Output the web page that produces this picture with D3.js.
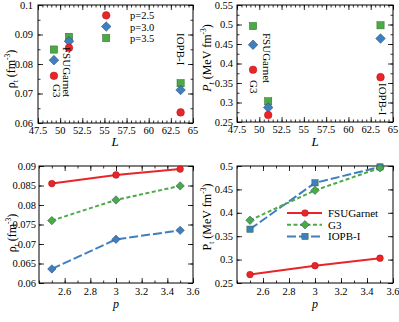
<!DOCTYPE html>
<html><head><meta charset="utf-8">
<script src="https://cdn.jsdelivr.net/npm/d3@7"></script>
<style>body{margin:0;background:#fff}svg{display:block;font-family:"Liberation Serif","Times New Roman",serif}</style>
</head><body><svg id="c" width="399" height="322"></svg>
<script>
const models = ["FSUGarnet","G3","IOPB-I"];
const modelL = [51.0, 49.3, 63.6];
const pVals = [2.5, 3.0, 3.5];
// rho_t per model for p = 2.5, 3.0, 3.5
const rhoFSU = [0.0855, 0.0877, 0.0892];
const rhoG3 = [0.0760, 0.0813, 0.0849];
const rhoIOPB = [0.0636, 0.0712, 0.0735];
// P_t per model
const ptFSU = [0.268, 0.287, 0.303];
const ptG3 = [0.384, 0.448, 0.496];
const ptIOPB = [0.365, 0.464, 0.498];
const legendL = 55.2;
const legendRho = [0.0965, 0.0927, 0.0888];
const pLabels = ["p=2.5","p=3.0","p=3.5"];

const RED="#e8262a", BLUE="#3f7fbf", GREEN="#4aaa45";
const pColors=[RED,BLUE,GREEN];
const pShapes=["circle","diamond","square"];
const svg=d3.select("#c");
const TF=10.5;

function marker(g,shape,x,y,color,sz){
  if(shape==="circle") g.append("circle").attr("cx",x).attr("cy",y).attr("r",sz*0.48).attr("fill",color).attr("stroke","#a00").attr("stroke-width",0.4);
  else if(shape==="square") g.append("rect").attr("x",x-sz*0.45).attr("y",y-sz*0.45).attr("width",sz*0.9).attr("height",sz*0.9).attr("fill",color).attr("stroke","#2a6a25").attr("stroke-width",0.5);
  else { const s=sz*0.6; g.append("path").attr("d",`M${x},${y-s}L${x+s},${y}L${x},${y+s}L${x-s},${y}Z`).attr("fill",color).attr("stroke","#1d3f66").attr("stroke-width",0.5);}
}

function frame(x0,x1,y0,y1,xd,yd,xMaj,xMin,yMaj,yMin,xOff,yOff){
  const x=d3.scaleLinear().domain(xd).range([x0,x1]);
  const y=d3.scaleLinear().domain(yd).range([y1,y0]);
  const g=svg.append("g");
  const mk=(axisFn,sc,vals,len)=>axisFn(sc).tickValues(vals).tickSize(len).tickFormat("");
  const style=s=>{s.select(".domain").remove();s.selectAll("line").attr("stroke","#000").attr("stroke-width",0.8);};
  g.append("g").attr("transform",`translate(0,${y1})`).call(mk(d3.axisTop,x,xMin,2.5)).call(style);
  g.append("g").attr("transform",`translate(0,${y1})`).call(mk(d3.axisTop,x,xMaj,5)).call(style);
  g.append("g").attr("transform",`translate(0,${y0})`).call(mk(d3.axisBottom,x,xMin,2.5)).call(style);
  g.append("g").attr("transform",`translate(0,${y0})`).call(mk(d3.axisBottom,x,xMaj,5)).call(style);
  g.append("g").attr("transform",`translate(${x0},0)`).call(mk(d3.axisRight,y,yMin,2.5)).call(style);
  g.append("g").attr("transform",`translate(${x0},0)`).call(mk(d3.axisRight,y,yMaj,5)).call(style);
  g.append("g").attr("transform",`translate(${x1},0)`).call(mk(d3.axisLeft,y,yMin,2.5)).call(style);
  g.append("g").attr("transform",`translate(${x1},0)`).call(mk(d3.axisLeft,y,yMaj,5)).call(style);
  g.append("rect").attr("x",x0).attr("y",y0).attr("width",x1-x0).attr("height",y1-y0).attr("fill","none").attr("stroke","#000").attr("stroke-width",1);
  g.selectAll(".xl").data(xMaj).join("text").attr("x",d=>x(d)).attr("y",y1+xOff).attr("text-anchor","middle").attr("font-size",TF).text(String);
  g.selectAll(".yl").data(yMaj).join("text").attr("x",x0-yOff).attr("y",d=>y(d)+3.5).attr("text-anchor","end").attr("font-size",TF).text(String);
  return {x,y,g};
}
const rng=(a,b,s)=>d3.range(Math.round((b-a)/s)+1).map(i=>+(a+i*s).toFixed(4));
const rhoLabel='ρ<tspan font-size="7.5" dy="3">t</tspan><tspan dy="-3"> (fm</tspan><tspan font-size="7.5" dy="-5">-3</tspan><tspan dy="5">)</tspan>';

// ---- Top-left
{
  const f=frame(38,193,5,123,[47.5,65],[0.06,0.1],rng(47.5,65,2.5),rng(47.5,65,0.5),rng(0.06,0.1,0.01),rng(0.06,0.1,0.005),11,5);
  const data=[rhoFSU,rhoG3,rhoIOPB];
  [2,1,0].forEach(pi=>models.forEach((m,mi)=>marker(f.g,pShapes[pi],f.x(modelL[mi]),f.y(data[mi][pi]),pColors[pi],8)));
  pLabels.forEach((t,i)=>{marker(f.g,pShapes[i],f.x(legendL),f.y(legendRho[i]),pColors[i],8);
    f.g.append("text").attr("x",130).attr("y",f.y(legendRho[i])+4).attr("font-size",TF).text(t);});
  const rl=(t,x,y)=>f.g.append("text").attr("transform",`translate(${x},${y}) rotate(90)`).attr("font-size",11).text(t);
  rl("G3",53,84); rl("FSUGarnet",63,47); rl("IOPB-I",177,33);
  svg.append("text").attr("transform","translate(15,69) rotate(-90)").attr("text-anchor","middle").attr("font-size",12).html(rhoLabel);
  svg.append("text").attr("x",115).attr("y",146).attr("text-anchor","middle").attr("font-size",13).attr("font-style","italic").text("L");
}
// ---- Top-right
{
  const f=frame(237,393,5,122,[47.5,65],[0.25,0.55],rng(47.5,65,2.5),rng(47.5,65,0.5),rng(0.25,0.55,0.05),rng(0.25,0.55,0.025),11,4);
  const data=[ptFSU,ptG3,ptIOPB];
  [2,1,0].forEach(pi=>models.forEach((m,mi)=>marker(f.g,pShapes[pi],f.x(modelL[mi]),f.y(data[mi][pi]),pColors[pi],8)));
  const rl=(t,x,y)=>f.g.append("text").attr("transform",`translate(${x},${y}) rotate(90)`).attr("font-size",11).text(t);
  rl("G3",250,80); rl("FSUGarnet",263,33); rl("IOPB-I",379,83);
  svg.append("text").attr("transform","translate(211,58) rotate(-90)").attr("text-anchor","middle").attr("font-size",12)
    .html('<tspan font-style="italic">P</tspan><tspan font-size="7.5" dy="3" font-style="italic">t</tspan><tspan dy="-3"> (MeV fm</tspan><tspan font-size="7.5" dy="-5">-3</tspan><tspan dy="5">)</tspan>');
  svg.append("text").attr("x",315).attr("y",146).attr("text-anchor","middle").attr("font-size",13).attr("font-style","italic").text("L");
}
const styles=[{c:RED,dash:null,shape:"circle"},{c:GREEN,dash:"4,2.5",shape:"diamond"},{c:BLUE,dash:"9,3",shape:"diamond"}];
// ---- Bottom-left
{
  const f=frame(39,193,166,283,[2.4,3.6],[0.06,0.09],rng(2.6,3.6,0.2),rng(2.4,3.6,0.1),rng(0.06,0.09,0.005),rng(0.06,0.09,0.005),12,3);
  const data=[rhoFSU,rhoG3,rhoIOPB];
  const line=d3.line().x((d,i)=>f.x(pVals[i])).y(d=>f.y(d));
  [2,1,0].forEach(mi=>{
    f.g.append("path").attr("d",line(data[mi])).attr("fill","none").attr("stroke",styles[mi].c).attr("stroke-width",2).attr("stroke-dasharray",styles[mi].dash);
    data[mi].forEach((v,i)=>marker(f.g,styles[mi].shape,f.x(pVals[i]),f.y(v),styles[mi].c,7));
  });
  svg.append("text").attr("transform","translate(16,233) rotate(-90)").attr("text-anchor","middle").attr("font-size",12).html(rhoLabel);
  svg.append("text").attr("x",116).attr("y",308).attr("text-anchor","middle").attr("font-size",12).attr("font-style","italic").text("p");
}
// ---- Bottom-right
{
  const f=frame(237,393,166,283,[2.4,3.6],[0.25,0.5],rng(2.6,3.6,0.2),rng(2.4,3.6,0.1),rng(0.25,0.5,0.05),rng(0.25,0.5,0.05),12,4);
  const data=[ptFSU,ptG3,ptIOPB];
  const st=[styles[0],{c:GREEN,dash:"4,2.5",shape:"diamond"},{c:BLUE,dash:"9,3",shape:"square"}];
  const line=d3.line().x((d,i)=>f.x(pVals[i])).y(d=>f.y(d));
  [2,1,0].forEach(mi=>{
    f.g.append("path").attr("d",line(data[mi])).attr("fill","none").attr("stroke",st[mi].c).attr("stroke-width",2).attr("stroke-dasharray",st[mi].dash);
    data[mi].forEach((v,i)=>marker(f.g,st[mi].shape,f.x(pVals[i]),f.y(v),st[mi].c,7));
  });
  models.forEach((m,i)=>{
    const yy=213+i*11.7;
    f.g.append("line").attr("x1",287).attr("x2",322).attr("y1",yy).attr("y2",yy).attr("stroke",st[i].c).attr("stroke-width",2).attr("stroke-dasharray",st[i].dash);
    marker(f.g,st[i].shape,305,yy,st[i].c,7);
    f.g.append("text").attr("x",328).attr("y",yy+4).attr("font-size",TF+0.5).text(m);
  });
  svg.append("text").attr("transform","translate(211,217) rotate(-90)").attr("text-anchor","middle").attr("font-size",12)
    .html('P<tspan font-size="7.5" dy="3">t</tspan><tspan dy="-3"> (MeV fm</tspan><tspan font-size="7.5" dy="-5">-3</tspan><tspan dy="5">)</tspan>');
  svg.append("text").attr("x",315).attr("y",308).attr("text-anchor","middle").attr("font-size",12).attr("font-style","italic").text("p");
}
</script></body></html>
